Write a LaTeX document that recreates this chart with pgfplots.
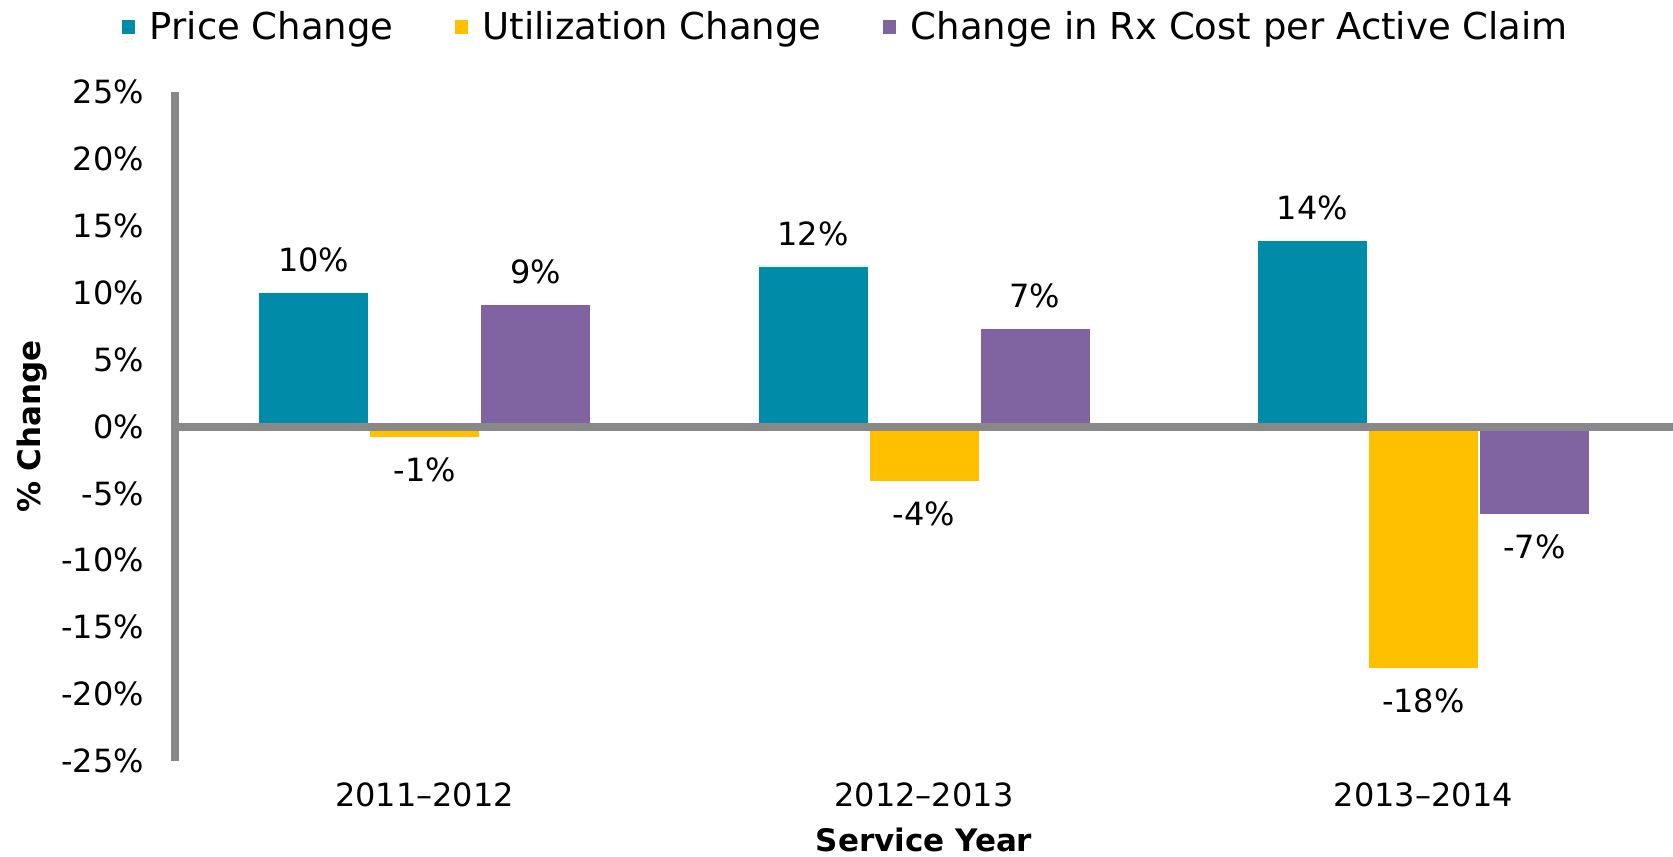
\documentclass[border=0pt]{standalone}
\usepackage{pgfplots}
\pgfplotsset{compat=1.18}
\usepackage{fontspec}
\setmainfont{DejaVu Sans}
\definecolor{cteal}{RGB}{0,139,168}
\definecolor{cyellow}{RGB}{255,192,0}
\definecolor{cpurple}{RGB}{128,100,162}
\definecolor{axgray}{RGB}{136,136,136}
\begin{document}
\begin{tikzpicture}[font=\fontsize{16}{19}\selectfont]
\begin{axis}[
  scale only axis, width=749pt, height=334.5pt,
  xmin=-0.5, xmax=2.5, ymin=-25, ymax=25,
  ybar=0.5pt, bar width=55pt,
  axis lines=left,
  x axis line style={draw=none},
  y axis line style={-, line width=4pt, color=axgray},
  xtick={0,1,2}, xticklabels={2011--2012,2012--2013,2013--2014},
  ytick={-25,-20,-15,-10,-5,0,5,10,15,20,25},
  yticklabels={-25\%,-20\%,-15\%,-10\%,-5\%,0\%,5\%,10\%,15\%,20\%,25\%},
  major tick length=0pt,
  yticklabel style={xshift=-12pt},
  xticklabel style={yshift=-7.5pt},
  xlabel={\textbf{Service Year}},
  ylabel={\textbf{\% Change}},
  xlabel style={at={(axis description cs:0.5,-0.118)}, anchor=center, font=\fontsize{15.5}{18}\selectfont},
  ylabel style={at={(axis description cs:-0.0955,0.5)}, anchor=center, font=\fontsize{15.5}{18}\selectfont},
  point meta=explicit symbolic,
  visualization depends on=rawy \as \rawy,
  nodes near coords,
  every node near coord/.append style={inner sep=10pt, font=\fontsize{16}{19}\selectfont, color=black},
  every node near coord/.append code={\ifdim\rawy pt<0pt \pgfkeysalso{anchor=north}\else\pgfkeysalso{anchor=south}\fi},
  legend columns=3,
  legend style={at={(0.4484,1.0972)}, anchor=center, draw=none, fill=none,
    font=\fontsize{18.5}{22}\selectfont,
    /tikz/every odd column/.append style={column sep=5.3pt},
    /tikz/every even column/.append style={column sep=28.5pt}},
  legend image code/.code={\fill[#1,/tikz/.cd,draw=none] (0pt,-3.4pt) rectangle (6.8pt,3.4pt);},
]
\addplot[fill=cteal, draw=white, line width=0.4pt] coordinates {(0,10.0) [10\%] (1,12.0) [12\%] (2,13.9) [14\%]};
\addplot[fill=cyellow, draw=white, line width=0.4pt] coordinates {(0,-0.8) [-1\%] (1,-4.1) [-4\%] (2,-18.1) [-18\%]};
\addplot[fill=cpurple, draw=white, line width=0.4pt] coordinates {(0,9.1) [9\%] (1,7.3) [7\%] (2,-6.6) [-7\%]};
\legend{Price Change, Utilization Change, Change in Rx Cost per Active Claim}
\draw[axgray, line width=4pt] (axis cs:-0.5,0) -- (axis cs:2.5,0);
\end{axis}
\pgfresetboundingbox
\path[use as bounding box] (-87.5pt,-47.5pt) rectangle (749pt,380.5pt);
\end{tikzpicture}
\end{document}
